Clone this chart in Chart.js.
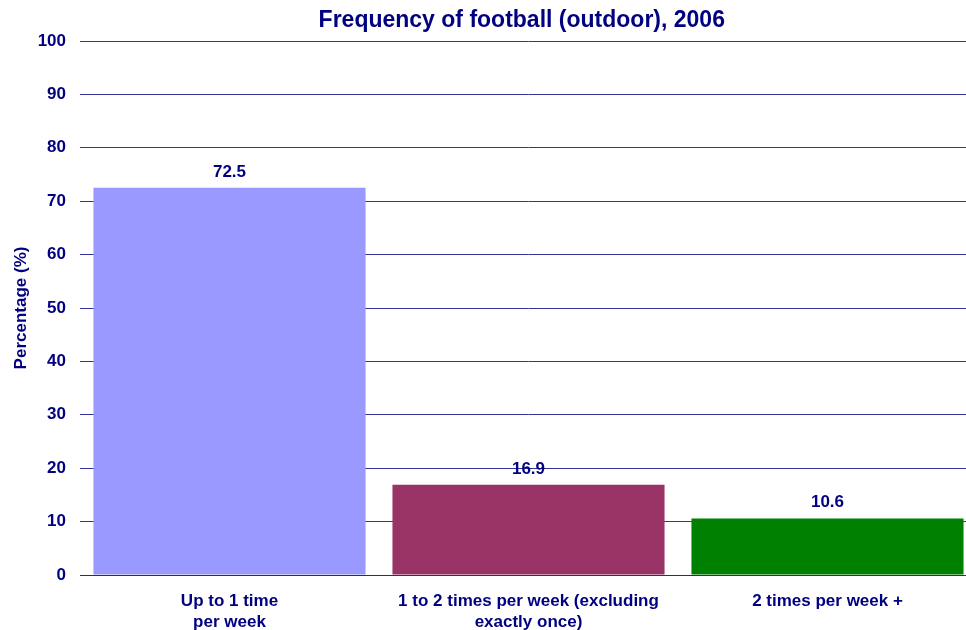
<!DOCTYPE html>
<html>
<head>
<meta charset="utf-8">
<script src="https://cdn.jsdelivr.net/npm/chart.js@4/dist/chart.umd.min.js"></script>
<style>
html,body{margin:0;padding:0;background:#fff;overflow:hidden;}
#wrap{width:977px;height:630px;position:relative;}
</style>
</head>
<body>
<div id="wrap"><canvas id="c"></canvas></div>
<script>
const titleText = "Frequency of football (outdoor), 2006";
const categories = [["Up to 1 time","per week"],["1 to 2 times per week (excluding","exactly once)"],["2 times per week +"]];
const values = [72.5, 16.9, 10.6];
const barColors = ["#9999FF", "#993366", "#008000"];
const yTitle = "Percentage (%)";

const navy = "#000080";
const fontFam = "'Liberation Sans', Arial, sans-serif";

const labelPlugin = {
  id: 'valueLabels',
  afterDatasetsDraw(chart) {
    const ctx = chart.ctx;
    const meta = chart.getDatasetMeta(0);
    ctx.save();
    ctx.font = "bold 17px " + fontFam;
    ctx.fillStyle = navy;
    ctx.textAlign = "center";
    ctx.textBaseline = "alphabetic";
    meta.data.forEach((bar, i) => {
      ctx.fillText(values[i].toFixed(1), bar.x, bar.y - 11);
    });
    ctx.restore();
  }
};

const titlePlugin = {
  id: 'plotTitle',
  afterDraw(chart) {
    const ctx = chart.ctx;
    const meta = chart.getDatasetMeta(0);
    const last = meta.data[meta.data.length - 1];
    const right = last.x + last.width / 2;
    ctx.save();
    ctx.font = "bold 23px " + fontFam;
    ctx.fillStyle = navy;
    ctx.textAlign = "center";
    ctx.textBaseline = "middle";
    ctx.fillText(titleText, (chart.chartArea.left + right) / 2, 21);
    ctx.restore();
  }
};

new Chart(document.getElementById('c'), {
  type: 'bar',
  data: {
    labels: categories,
    datasets: [{
      data: values,
      backgroundColor: barColors,
      borderWidth: 0,
      categoryPercentage: 1.0,
      barPercentage: 0.91
    }]
  },
  options: {
    responsive: true,
    maintainAspectRatio: false,
    animation: false,
    layout: { padding: { top: 41, left: 0, right: 0, bottom: 0 } },
    plugins: {
      legend: { display: false },
      tooltip: { enabled: false },
      title: { display: false }
    },
    scales: {
      x: {
        grid: { display: false, drawTicks: false },
        border: { display: true, color: '#333333', width: 1 },
        ticks: {
          color: navy,
          padding: 16,
          maxRotation: 0,
          autoSkip: false,
          font: { family: fontFam, size: 17, weight: 'bold', lineHeight: 1.235 }
        },
        afterFit(scale) { scale.height = 55; }
      },
      y: {
        min: 0, max: 100,
        ticks: {
          stepSize: 10,
          color: navy,
          padding: 14,
          font: { family: fontFam, size: 17, weight: 'bold' }
        },
        grid: { color: '#333399', lineWidth: 1, drawTicks: false },
        border: { display: false },
        title: {
          display: true,
          text: yTitle,
          color: navy,
          font: { family: fontFam, size: 17, weight: 'bold' },
          padding: { top: 11, bottom: 0 }
        },
        afterFit(scale) { scale.width = 80; }
      }
    }
  },
  plugins: [labelPlugin, titlePlugin]
});
</script>
</body>
</html>
